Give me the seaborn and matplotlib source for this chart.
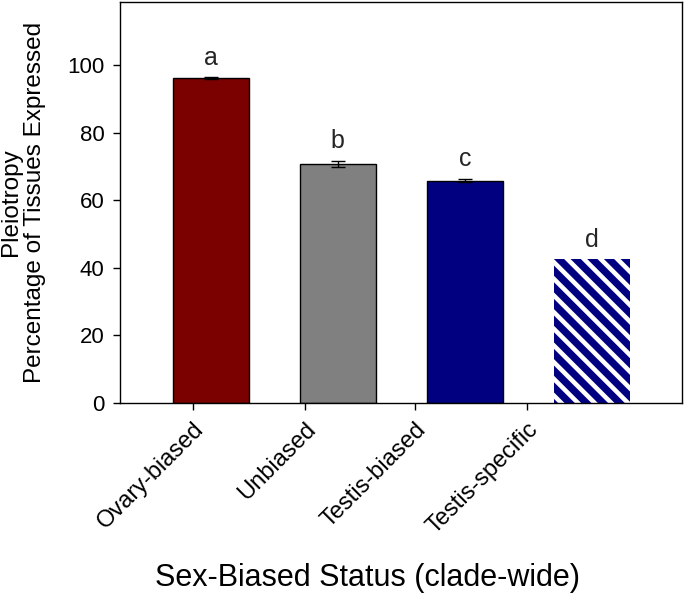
import numpy as np
import pandas as pd
import matplotlib
matplotlib.use("Agg")
import matplotlib.pyplot as plt
import seaborn as sns

# data
categories = ["Ovary-biased", "Unbiased", "Testis-biased", "Testis-specific"]
values = [96.0, 70.7, 65.8, 42.5]
errors = [0.3, 1.0, 0.4, 0.0]
letters = ["a", "b", "c", "d"]
colors = ["#7B0000", "#808080", "#000080", "#000080"]
yticks = [0, 20, 40, 60, 80, 100]

# tick marks in the original sit a little left of the bar centres
tick_pos = [-0.14, 0.74, 1.61, 2.49]

sns.set_theme(style="white")
plt.rcParams["font.family"] = ["Liberation Sans", "DejaVu Sans"]
plt.rcParams["hatch.linewidth"] = 5.2

df = pd.DataFrame({"status": categories, "value": values})

fig = plt.figure(figsize=(6.85, 5.99), dpi=100)
ax = fig.add_axes([0.175, 0.327, 0.8206, 0.6696])

sns.barplot(data=df, x="status", y="value", hue="status", palette=colors,
            order=categories, width=0.6, edgecolor="black", linewidth=1.0,
            saturation=1, legend=False, ax=ax)

bars = ax.patches
centers = [b.get_x() + b.get_width() / 2 for b in bars]

# hatched last bar: white with navy diagonal stripes, no outline
last = bars[-1]
last.set_facecolor("white")
last.set_edgecolor("#000080")
last.set_hatch("\\\\")
last.set_linewidth(0)

ax.errorbar(centers[:3], values[:3], yerr=errors[:3], fmt="none",
            ecolor="black", elinewidth=1.0, capsize=5, capthick=1.0)

for cx, v, e, t in zip(centers, values, errors, letters):
    ax.text(cx, v + e + 2.3, t, ha="center", va="bottom", fontsize=18)

ax.set_xlim(-0.717, 3.71)
ax.set_ylim(0, 118.6)
ax.set_yticks(yticks)
ax.set_yticklabels([str(t) for t in yticks], fontsize=16)
ax.set_xticks(tick_pos)
ax.set_xticklabels(categories, rotation=45, ha="right", rotation_mode="anchor",
                   fontsize=17)

ax.tick_params(axis="both", direction="out", length=5, width=1, color="black",
               bottom=True, left=True, labelcolor="black")
ax.tick_params(axis="x", pad=6)
ax.tick_params(axis="y", pad=6)
for s in ax.spines.values():
    s.set_color("black")
    s.set_linewidth(1.0)

ax.set_ylabel("Pleiotropy\nPercentage of Tissues Expressed", fontsize=17.5,
              linespacing=1.1, color="black")
ax.yaxis.set_label_coords(-0.132, 0.5)
ax.set_xlabel("Sex-Biased Status (clade-wide)", fontsize=22, color="black")
ax.xaxis.set_label_coords(0.441, -0.399)

fig.savefig("out.png", dpi=100)
